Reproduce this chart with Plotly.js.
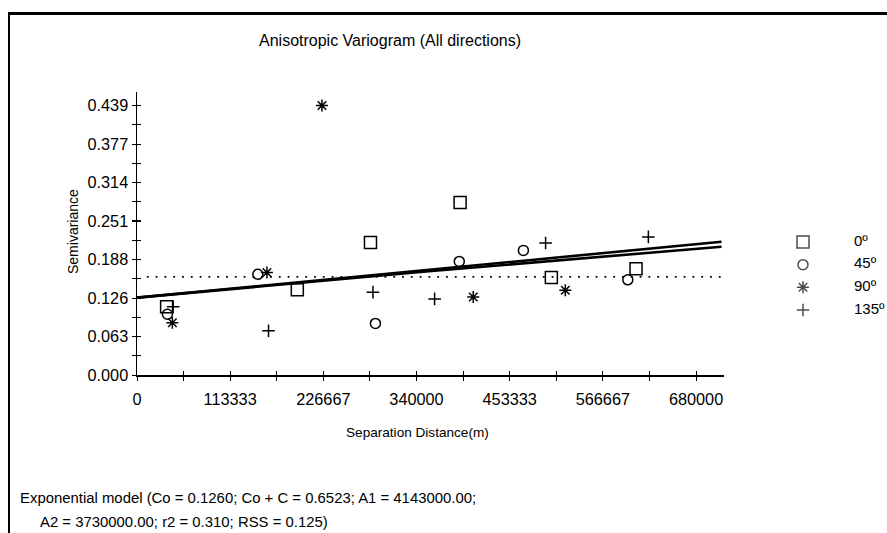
<!DOCTYPE html>
<html>
<head>
<meta charset="utf-8">
<script src="https://cdn.plot.ly/plotly-3.0.1.min.js"></script>
<style>
  html, body { margin: 0; padding: 0; background: #fff; }
  #wrap { position: relative; width: 887px; height: 533px; overflow: hidden; }
  #chart { position: absolute; left: 0; top: 0; width: 887px; height: 533px; }
  #frame { position: absolute; left: 8px; top: 12px; width: 900px; height: 600px;
           border-left: 2px solid #000; border-top: 3px solid #000; pointer-events: none; }
</style>
</head>
<body>
<div id="wrap"><div id="chart"></div><div id="frame"></div></div>
<script>
// ---- data ----
const categories = ['0º', '45º', '90º', '135º'];
const symbols = ['square-open', 'circle-open', 'asterisk-open', 'cross-thin-open'];

const dist0   = [36000, 195000, 284000, 393000, 504000, 607000];
const sv0     = [0.111, 0.139, 0.216, 0.281, 0.159, 0.173];
const dist45  = [37000, 147000, 290000, 392000, 470000, 597000];
const sv45    = [0.099, 0.164, 0.084, 0.185, 0.203, 0.155];
const dist90  = [43000, 158000, 225000, 409000, 521000];
const sv90    = [0.085, 0.167, 0.439, 0.127, 0.138];
const dist135 = [44000, 160000, 287000, 362000, 497000, 622000];
const sv135   = [0.111, 0.072, 0.135, 0.124, 0.215, 0.225];

const modelDist = [0, 355000, 711000];
const modelA1   = [0.126, 0.169, 0.209];
const modelA2   = [0.126, 0.172, 0.217];

const sillDist = [12000, 711000];
const sillVal  = [0.160, 0.160];

const xTickVals = [0, 113333, 226667, 340000, 453333, 566667, 680000];
const xTickText = ['0', '113333', '226667', '340000', '453333', '566667', '680000'];
const yTickVals = [0, 0.0627, 0.1254, 0.1881, 0.2509, 0.3136, 0.3763, 0.439];
const yTickText = ['0.000', '0.063', '0.126', '0.188', '0.251', '0.314', '0.377', '0.439'];

const titleText = 'Anisotropic Variogram (All directions)';
const xTitle = 'Separation Distance(m)';
const yTitle = 'Semivariance';
const modelLine1 = 'Exponential model (Co = 0.1260; Co + C = 0.6523; A1 = 4143000.00;';
const modelLine2 = 'A2 = 3730000.00; r2 = 0.310; RSS = 0.125)';

// ---- layout helpers ----
const W = 887, H = 533;
const FONT = 'Liberation Sans, Arial, sans-serif';
const px = v => v / W;
const py = v => 1 - v / H;
const xRange = [0, 714000];
const yRange = [0, 0.461];

const allDist = [dist0, dist45, dist90, dist135];
const allSv = [sv0, sv45, sv90, sv135];
const sizes = [12, 10, 10, 9];

const traces = [];
// model lines and sill
traces.push({x: modelDist, y: modelA1, mode: 'lines', line: {color: '#000', width: 2.6}, hoverinfo: 'skip', showlegend: false});
traces.push({x: modelDist, y: modelA2, mode: 'lines', line: {color: '#000', width: 2.6}, hoverinfo: 'skip', showlegend: false});
traces.push({x: sillDist, y: sillVal, mode: 'lines', line: {color: '#000', width: 1.8, dash: '1.8px,7px'}, hoverinfo: 'skip', showlegend: false});

categories.forEach((c, i) => {
  traces.push({
    x: allDist[i], y: allSv[i], mode: 'markers', name: c, showlegend: false,
    marker: {symbol: symbols[i], size: sizes[i], color: '#000', line: {color: '#000', width: 1.5}}
  });
});

// manual legend in its own small subplot
const legIdx = categories.map((c, i) => i);
traces.push({
  x: categories.map(() => 0), y: legIdx, xaxis: 'x3', yaxis: 'y3', mode: 'markers',
  marker: {symbol: symbols, size: sizes, color: '#000', line: {color: '#000', width: 1.5}},
  hoverinfo: 'skip', showlegend: false
});
traces.push({
  x: categories.map(() => 51), y: legIdx, xaxis: 'x3', yaxis: 'y3', mode: 'text',
  text: categories, textposition: 'middle right',
  textfont: {family: FONT, size: 15, color: '#000'},
  hoverinfo: 'skip', showlegend: false
});

const xDom = [px(137), px(724)];
const yDom = [py(375), py(92)];

const baseAxis = {
  showgrid: false, zeroline: false, showline: true, linecolor: '#000', linewidth: 1.5,
  ticks: 'outside', ticklen: 4, tickwidth: 1, tickcolor: '#000', fixedrange: true
};

const layout = {
  width: W, height: H,
  margin: {l: 0, r: 0, t: 0, b: 0},
  paper_bgcolor: 'rgba(0,0,0,0)', plot_bgcolor: 'rgba(0,0,0,0)',
  showlegend: false,
  xaxis: Object.assign({}, baseAxis, {
    domain: xDom, range: xRange, anchor: 'y',
    tickmode: 'array', tickvals: xTickVals, ticktext: xTickText,
    tickfont: {family: FONT, size: 16.3, color: '#000'}, ticklabelstandoff: 5,
    minor: {tickmode: 'linear', tick0: 0, dtick: 56666.667, ticks: 'outside', ticklen: 4, tickcolor: '#000', tickwidth: 1}
  }),
  yaxis: Object.assign({}, baseAxis, {
    domain: yDom, range: yRange, anchor: 'x',
    tickmode: 'array', tickvals: yTickVals, ticktext: yTickText,
    tickfont: {family: FONT, size: 16.3, color: '#000'},
    minor: {tickmode: 'linear', tick0: 0, dtick: 0.439 / 14, ticks: 'outside', ticklen: 4, tickcolor: '#000', tickwidth: 1}
  }),
  xaxis2: Object.assign({}, baseAxis, {
    domain: xDom, range: xRange, overlaying: 'x', anchor: 'y', showline: false,
    ticks: 'inside', showticklabels: false, tickmode: 'array', tickvals: xTickVals,
    minor: {tickmode: 'linear', tick0: 0, dtick: 56666.667, ticks: 'inside', ticklen: 4, tickcolor: '#000', tickwidth: 1}
  }),
  yaxis2: Object.assign({}, baseAxis, {
    domain: yDom, range: yRange, overlaying: 'y', anchor: 'x', showline: false,
    ticks: 'inside', showticklabels: false, tickmode: 'array', tickvals: yTickVals,
    minor: {tickmode: 'linear', tick0: 0, dtick: 0.439 / 14, ticks: 'inside', ticklen: 4, tickcolor: '#000', tickwidth: 1}
  }),
  xaxis3: {domain: [px(790), px(885)], range: [-13, 82], anchor: 'y3', visible: false, fixedrange: true},
  yaxis3: {domain: [py(321.3), py(230.7)], range: [3.5, -0.5], anchor: 'x3', visible: false, fixedrange: true},
  annotations: [
    {text: titleText, xref: 'paper', yref: 'paper', x: px(390), y: py(40), xanchor: 'center', yanchor: 'middle', showarrow: false, font: {family: FONT, size: 16, color: '#000'}},
    {text: xTitle, xref: 'paper', yref: 'paper', x: px(417), y: py(432), xanchor: 'center', yanchor: 'middle', showarrow: false, font: {family: FONT, size: 13.6, color: '#000'}},
    {text: yTitle, xref: 'paper', yref: 'paper', x: px(73), y: py(232), xanchor: 'center', yanchor: 'middle', textangle: -90, showarrow: false, font: {family: FONT, size: 14, color: '#000'}},
    {text: modelLine1, xref: 'paper', yref: 'paper', x: px(18), y: py(498), xanchor: 'left', yanchor: 'middle', showarrow: false, font: {family: FONT, size: 14.9, color: '#000'}},
    {text: modelLine2, xref: 'paper', yref: 'paper', x: px(38), y: py(522), xanchor: 'left', yanchor: 'middle', showarrow: false, font: {family: FONT, size: 14.9, color: '#000'}}
  ]
};

// dummy traces so the overlay axes draw
traces.push({x: [null], y: [null], xaxis: 'x2', yaxis: 'y2', mode: 'markers', showlegend: false, hoverinfo: 'skip'});

Plotly.newPlot('chart', traces, layout, {displayModeBar: false, staticPlot: true});
</script>
</body>
</html>
